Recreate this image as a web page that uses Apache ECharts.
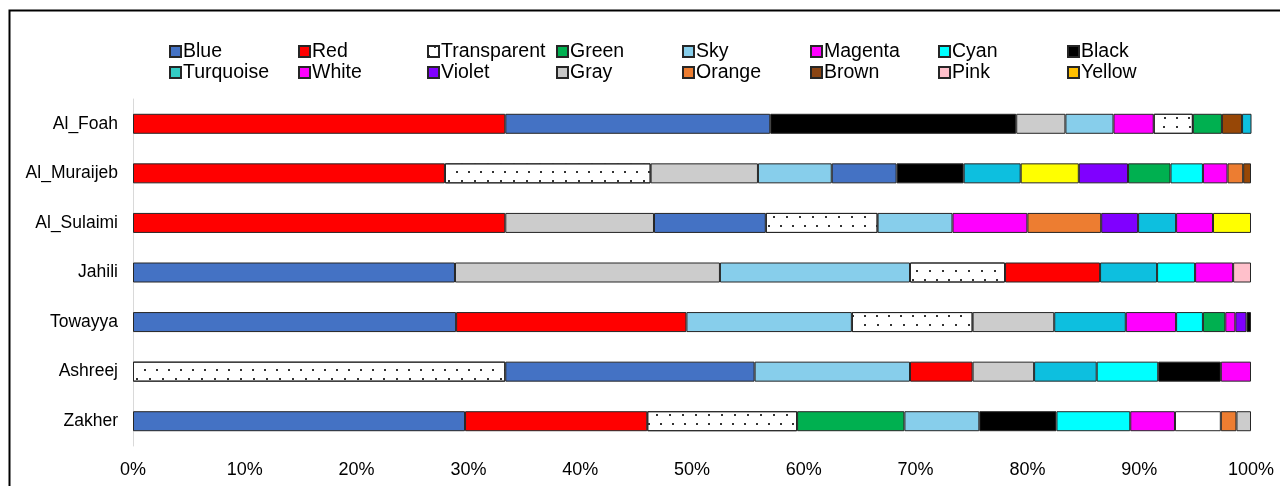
<!DOCTYPE html>
<html>
<head>
<meta charset="utf-8">
<title>Colour shares by site</title>
<script src="https://cdn.jsdelivr.net/npm/echarts@6/dist/echarts.min.js"></script>
<style>
  html, body { margin: 0; padding: 0; background: #fff; }
  #chart { width: 1280px; height: 486px; }
</style>
</head>
<body>
<div id="chart"></div>
<script>
// sites, top to bottom
const sites = ['Al_Foah', 'Al_Muraijeb', 'Al_Sulaimi', 'Jahili', 'Towayya', 'Ashreej', 'Zakher'];

// legend order (2 rows x 8 columns, read column by column)
const legendNames = [
  'Blue', 'Turquoise', 'Red', 'White', 'Transparent', 'Violet', 'Green', 'Gray',
  'Sky', 'Orange', 'Magenta', 'Brown', 'Cyan', 'Pink', 'Black', 'Yellow'
];

// segments of each bar, left to right: [colour, percent]
const alFoah = [['Red', 33.3], ['Blue', 23.7], ['Black', 22.0], ['Gray', 4.4], ['Sky', 4.3],
  ['Magenta', 3.6], ['Transparent', 3.5], ['Green', 2.6], ['Brown', 1.8], ['Turquoise', 0.9]];
const alMuraijeb = [['Red', 27.9], ['Transparent', 18.4], ['Gray', 9.6], ['Sky', 6.6], ['Blue', 5.8],
  ['Black', 6.0], ['Turquoise', 5.1], ['Yellow', 5.2], ['Violet', 4.4], ['Green', 3.8],
  ['Cyan', 2.9], ['Magenta', 2.2], ['Orange', 1.4], ['Brown', 0.7]];
const alSulaimi = [['Red', 33.3], ['Gray', 13.3], ['Blue', 10.0], ['Transparent', 10.0], ['Sky', 6.7],
  ['Magenta', 6.7], ['Orange', 6.6], ['Violet', 3.3], ['Turquoise', 3.4], ['Magenta', 3.3], ['Yellow', 3.4]];
const jahili = [['Blue', 28.8], ['Gray', 23.7], ['Sky', 17.0], ['Transparent', 8.5], ['Red', 8.5],
  ['Turquoise', 5.1], ['Cyan', 3.4], ['Magenta', 3.4], ['Pink', 1.6]];
const towayya = [['Blue', 28.9], ['Red', 20.6], ['Sky', 14.8], ['Transparent', 10.8], ['Gray', 7.3],
  ['Turquoise', 6.4], ['Magenta', 4.5], ['Cyan', 2.4], ['Green', 2.0], ['Magenta', 0.9],
  ['Violet', 1.0], ['Black', 0.4]];
const ashreej = [['Transparent', 33.3], ['Blue', 22.3], ['Sky', 13.9], ['Red', 5.6], ['Gray', 5.5],
  ['Turquoise', 5.6], ['Cyan', 5.5], ['Black', 5.6], ['Magenta', 2.7]];
const zakher = [['Blue', 29.7], ['Red', 16.3], ['Transparent', 13.4], ['Green', 9.6], ['Sky', 6.7],
  ['Black', 6.9], ['Cyan', 6.6], ['Magenta', 4.0], ['White', 4.1], ['Orange', 1.4], ['Gray', 1.3]];

const xTicks = [0, 10, 20, 30, 40, 50, 60, 70, 80, 90, 100];

const rows = [alFoah, alMuraijeb, alSulaimi, jahili, towayya, ashreej, zakher];

// fill used in the bars
const barColor = {
  Blue: '#4472C4', Red: '#FF0000', Transparent: '#FFFFFF', Green: '#00B050',
  Sky: '#87CEEB', Magenta: '#FF00FF', Cyan: '#00FFFF', Black: '#000000',
  Turquoise: '#0DBFDF', White: '#FFFFFF', Violet: '#8000FF', Gray: '#CCCCCC',
  Orange: '#ED7D31', Brown: '#974706', Pink: '#FFC0CB', Yellow: '#FFFF00'
};
// swatches in the legend (some differ from the bars in the original)
const legendColor = Object.assign({}, barColor, {
  Turquoise: '#33CCC4', White: '#FF00FF', Gray: '#C8C8C8', Yellow: '#FFC000', Brown: '#8B4513'
});

const dots = {
  symbol: 'rect',
  symbolSize: 1,
  color: '#333',
  dashArrayX: [[1.4, 9.6], [0, 5.5, 1.4, 4.1]],
  dashArrayY: [1.4, 6.6]
};

function styleFor(name, map) {
  const s = { color: map[name], borderColor: '#262626', borderWidth: 1 };
  if (name === 'Transparent') s.decal = dots;
  return s;
}

const font = "'Liberation Sans', Arial, sans-serif";
const maxLen = Math.max(...rows.map(r => r.length));

const series = [];
// legend-only series (no data)
legendNames.forEach(name => {
  series.push({
    name: name,
    type: 'bar',
    stack: 'total',
    barWidth: 20,
    data: [],
    itemStyle: styleFor(name, legendColor)
  });
});
// one stacked series per segment position
for (let k = 0; k < maxLen; k++) {
  series.push({
    name: 'seg' + k,
    type: 'bar',
    stack: 'total',
    barWidth: 20,
    silent: true,
    data: rows.map(r => r[k]
      ? { value: r[k][1], itemStyle: styleFor(r[k][0], barColor) }
      : '-')
  });
}

// one small vertical legend per column
const colLeft = [164, 293, 422, 551, 677, 805, 933, 1062];
const legends = colLeft.map((x, i) => ({
  orient: 'vertical',
  left: x,
  top: 36,
  itemGap: 0,
  itemWidth: 11,
  itemHeight: 11,
  icon: 'rect',
  selectedMode: false,
  textStyle: { fontFamily: font, fontSize: 19.5, color: '#000', lineHeight: 21, padding: [0, 0, 0, -3] },
  data: [legendNames[2 * i], legendNames[2 * i + 1]]
}));

const chart = echarts.init(document.getElementById('chart'));
chart.setOption({
  animation: false,
  legend: legends,
  graphic: [{
    type: 'polyline',
    silent: true,
    shape: { points: [[9.5, 500], [9.5, 10.5], [1300, 10.5]] },
    style: { stroke: '#000', lineWidth: 2, fill: null }
  }],
  grid: { left: 133, right: 29, top: 99, bottom: 40 },
  xAxis: {
    type: 'value',
    min: xTicks[0],
    max: xTicks[xTicks.length - 1],
    interval: xTicks[1] - xTicks[0],
    axisLine: { show: false },
    axisTick: { show: false },
    splitLine: { show: false },
    axisLabel: { formatter: '{value}%', fontFamily: font, fontSize: 18, color: '#000', margin: 15 }
  },
  yAxis: {
    type: 'category',
    inverse: true,
    data: sites,
    axisLine: { lineStyle: { color: '#D9D9D9', width: 1 } },
    axisTick: { show: false },
    axisLabel: { fontFamily: font, fontSize: 17.5, color: '#000', margin: 15 }
  },
  series: series
});
</script>
</body>
</html>
